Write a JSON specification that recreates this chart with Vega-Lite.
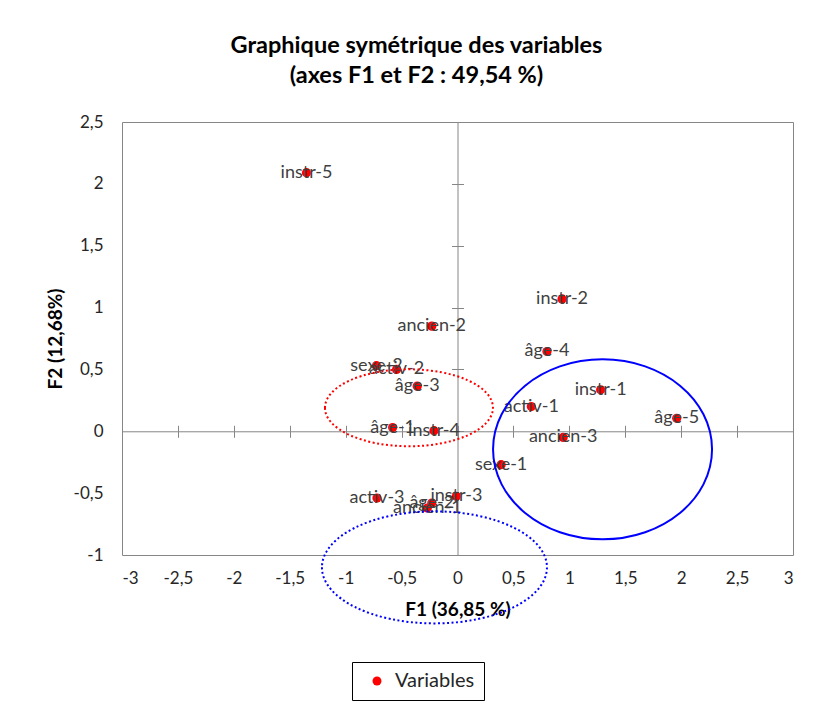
{
  "$schema": "https://vega.github.io/schema/vega-lite/v6.json",
  "width": 671,
  "height": 433,
  "autosize": {"type": "none"},
  "padding": {"left": 122, "top": 122, "right": 27, "bottom": 167},
  "background": "white",
  "config": {
    "view": {"stroke": "#868686", "strokeWidth": 1},
    "font": "Lato",
    "locale": {"number": {"decimal": ",", "thousands": " ", "grouping": [3], "currency": ["", " €"], "minus": "-"}}
  },
  "title": {
    "text": ["Graphique symétrique des variables", "(axes F1 et F2 : 49,54 %)"],
    "font": "Lato",
    "fontSize": 23.5,
    "fontWeight": "bold",
    "color": "#000000",
    "lineHeight": 30,
    "offset": 26,
    "dx": -41,
    "anchor": "middle"
  },
  "datasets": {
    "pts": [
      {"label": "instr-5", "x": -1.35, "y": 2.09},
      {"label": "instr-2", "x": 0.935, "y": 1.07},
      {"label": "ancien-2", "x": -0.23, "y": 0.85},
      {"label": "âge-4", "x": 0.8, "y": 0.645},
      {"label": "sexe-2", "x": -0.725, "y": 0.53},
      {"label": "activ-2", "x": -0.545, "y": 0.5},
      {"label": "âge-3", "x": -0.36, "y": 0.365},
      {"label": "instr-1", "x": 1.28, "y": 0.335},
      {"label": "activ-1", "x": 0.66, "y": 0.2},
      {"label": "âge-5", "x": 1.96, "y": 0.105},
      {"label": "âge-1", "x": -0.58, "y": 0.03},
      {"label": "instr-4", "x": -0.21, "y": 0.005},
      {"label": "ancien-3", "x": 0.945, "y": -0.05},
      {"label": "sexe-1", "x": 0.39, "y": -0.27},
      {"label": "activ-3", "x": -0.72, "y": -0.54},
      {"label": "instr-3", "x": -0.01, "y": -0.525},
      {"label": "âge-2", "x": -0.23, "y": -0.58},
      {"label": "ancien-1", "x": -0.27, "y": -0.62}
    ],
    "ellRed": [{"x": -0.434, "y": 0.19}],
    "ellBlue": [{"x": 1.297, "y": -0.146}],
    "ellBlueDot": [{"x": -0.206, "y": -1.1}]
  },
  "resolve": {"axis": {"x": "independent", "y": "independent"}},
  "layer": [
    {
      "data": {"name": "pts"},
      "mark": {"type": "point", "filled": true, "shape": "circle", "size": 85, "opacity": 1},
      "encoding": {
        "x": {
          "field": "x", "type": "quantitative",
          "scale": {"domain": [-3, 3], "nice": false, "zero": false},
          "axis": {
            "orient": "bottom",
            "values": [-3, -2.5, -2, -1.5, -1, -0.5, 0, 0.5, 1, 1.5, 2, 2.5, 3],
            "format": ".1~f",
            "grid": false, "domain": false, "ticks": false, "tickSize": 0,
            "labelPadding": 15, "labelFont": "Lato", "labelFontSize": 17, "labelColor": "#262626",
            "title": "F1 (36,85 %)", "titleFont": "Lato", "titleFontSize": 19, "titleFontWeight": "bold",
            "titleColor": "#000000", "titlePadding": 14
          }
        },
        "y": {
          "field": "y", "type": "quantitative",
          "scale": {"domain": [-1, 2.5], "nice": false, "zero": false},
          "axis": {
            "orient": "left",
            "values": [-1, -0.5, 0, 0.5, 1, 1.5, 2, 2.5],
            "format": ".1~f",
            "grid": false, "domain": false, "ticks": false, "tickSize": 0,
            "labelPadding": 19, "labelFont": "Lato", "labelFontSize": 17, "labelColor": "#262626",
            "title": "F2 (12,68%)", "titleFont": "Lato", "titleFontSize": 19, "titleFontWeight": "bold",
            "titleColor": "#000000", "titlePadding": 8
          }
        },
        "color": {
          "datum": "Variables",
          "scale": {"range": ["#FF0000"]},
          "legend": {
            "orient": "none", "legendX": 230, "legendY": 540,
            "title": null,
            "strokeColor": "#000000", "padding": 9,
            "symbolType": "circle", "symbolSize": 80, "symbolOffset": 6,
            "labelFont": "Lato", "labelFontSize": 20, "labelColor": "#262626", "labelOffset": 8,
            "encode": {"legend": {"update": {"strokeWidth": {"value": 2.5}}}}
          }
        }
      }
    },
    {
      "data": {"name": "pts"},
      "mark": {"type": "text", "font": "Lato", "fontSize": 18, "color": "#404040", "align": "center", "baseline": "middle"},
      "encoding": {
        "x": {
          "field": "x", "type": "quantitative",
          "axis": {
            "orient": "bottom", "offset": -123.71,
            "values": [-3, -2.5, -2, -1.5, -1, -0.5, 0, 0.5, 1, 1.5, 2, 2.5, 3],
            "labels": false, "title": null, "grid": false,
            "domain": true, "domainColor": "#868686", "domainWidth": 1,
            "ticks": true, "tickColor": "#868686", "tickSize": 6, "tickWidth": 1
          }
        },
        "y": {
          "field": "y", "type": "quantitative",
          "axis": {
            "orient": "left", "offset": -335.5,
            "values": [-1, -0.5, 0, 0.5, 1, 1.5, 2, 2.5],
            "labels": false, "title": null, "grid": false,
            "domain": true, "domainColor": "#868686", "domainWidth": 1,
            "ticks": true, "tickColor": "#868686", "tickSize": 6, "tickWidth": 1
          }
        },
        "text": {"field": "label"}
      }
    },
    {
      "data": {"name": "ellRed"},
      "mark": {"type": "point", "shape": "M -1 0 A 1 0.458 0 1 0 1 0 A 1 0.458 0 1 0 -1 0 Z", "size": 28224, "filled": false, "color": "#FF0000", "strokeWidth": 2, "strokeDash": [2, 2.5], "opacity": 1, "clip": false},
      "encoding": {
        "x": {
          "field": "x", "type": "quantitative",
          "axis": {
            "orient": "bottom", "offset": -123.71,
            "values": [-3, -2.5, -2, -1.5, -1, -0.5, 0, 0.5, 1, 1.5, 2, 2.5, 3],
            "labels": false, "title": null, "grid": false, "domain": false,
            "ticks": true, "tickColor": "#868686", "tickSize": -6, "tickWidth": 1
          }
        },
        "y": {
          "field": "y", "type": "quantitative",
          "axis": {
            "orient": "left", "offset": -335.5,
            "values": [-1, -0.5, 0, 0.5, 1, 1.5, 2, 2.5],
            "labels": false, "title": null, "grid": false, "domain": false,
            "ticks": true, "tickColor": "#868686", "tickSize": -6, "tickWidth": 1
          }
        }
      }
    },
    {
      "data": {"name": "ellBlue"},
      "mark": {"type": "point", "shape": "M -1 0 A 1 0.822 0 1 0 1 0 A 1 0.822 0 1 0 -1 0 Z", "size": 47961, "filled": false, "color": "#0000FF", "strokeWidth": 2, "opacity": 1, "clip": false},
      "encoding": {
        "x": {"field": "x", "type": "quantitative", "axis": null},
        "y": {"field": "y", "type": "quantitative", "axis": null}
      }
    },
    {
      "data": {"name": "ellBlueDot"},
      "mark": {"type": "point", "shape": "M -1 0 A 1 0.498 0 1 0 1 0 A 1 0.498 0 1 0 -1 0 Z", "size": 50625, "filled": false, "color": "#0000FF", "strokeWidth": 2, "strokeDash": [2, 2.5], "opacity": 1, "clip": false},
      "encoding": {
        "x": {"field": "x", "type": "quantitative", "axis": null},
        "y": {"field": "y", "type": "quantitative", "axis": null}
      }
    }
  ]
}
